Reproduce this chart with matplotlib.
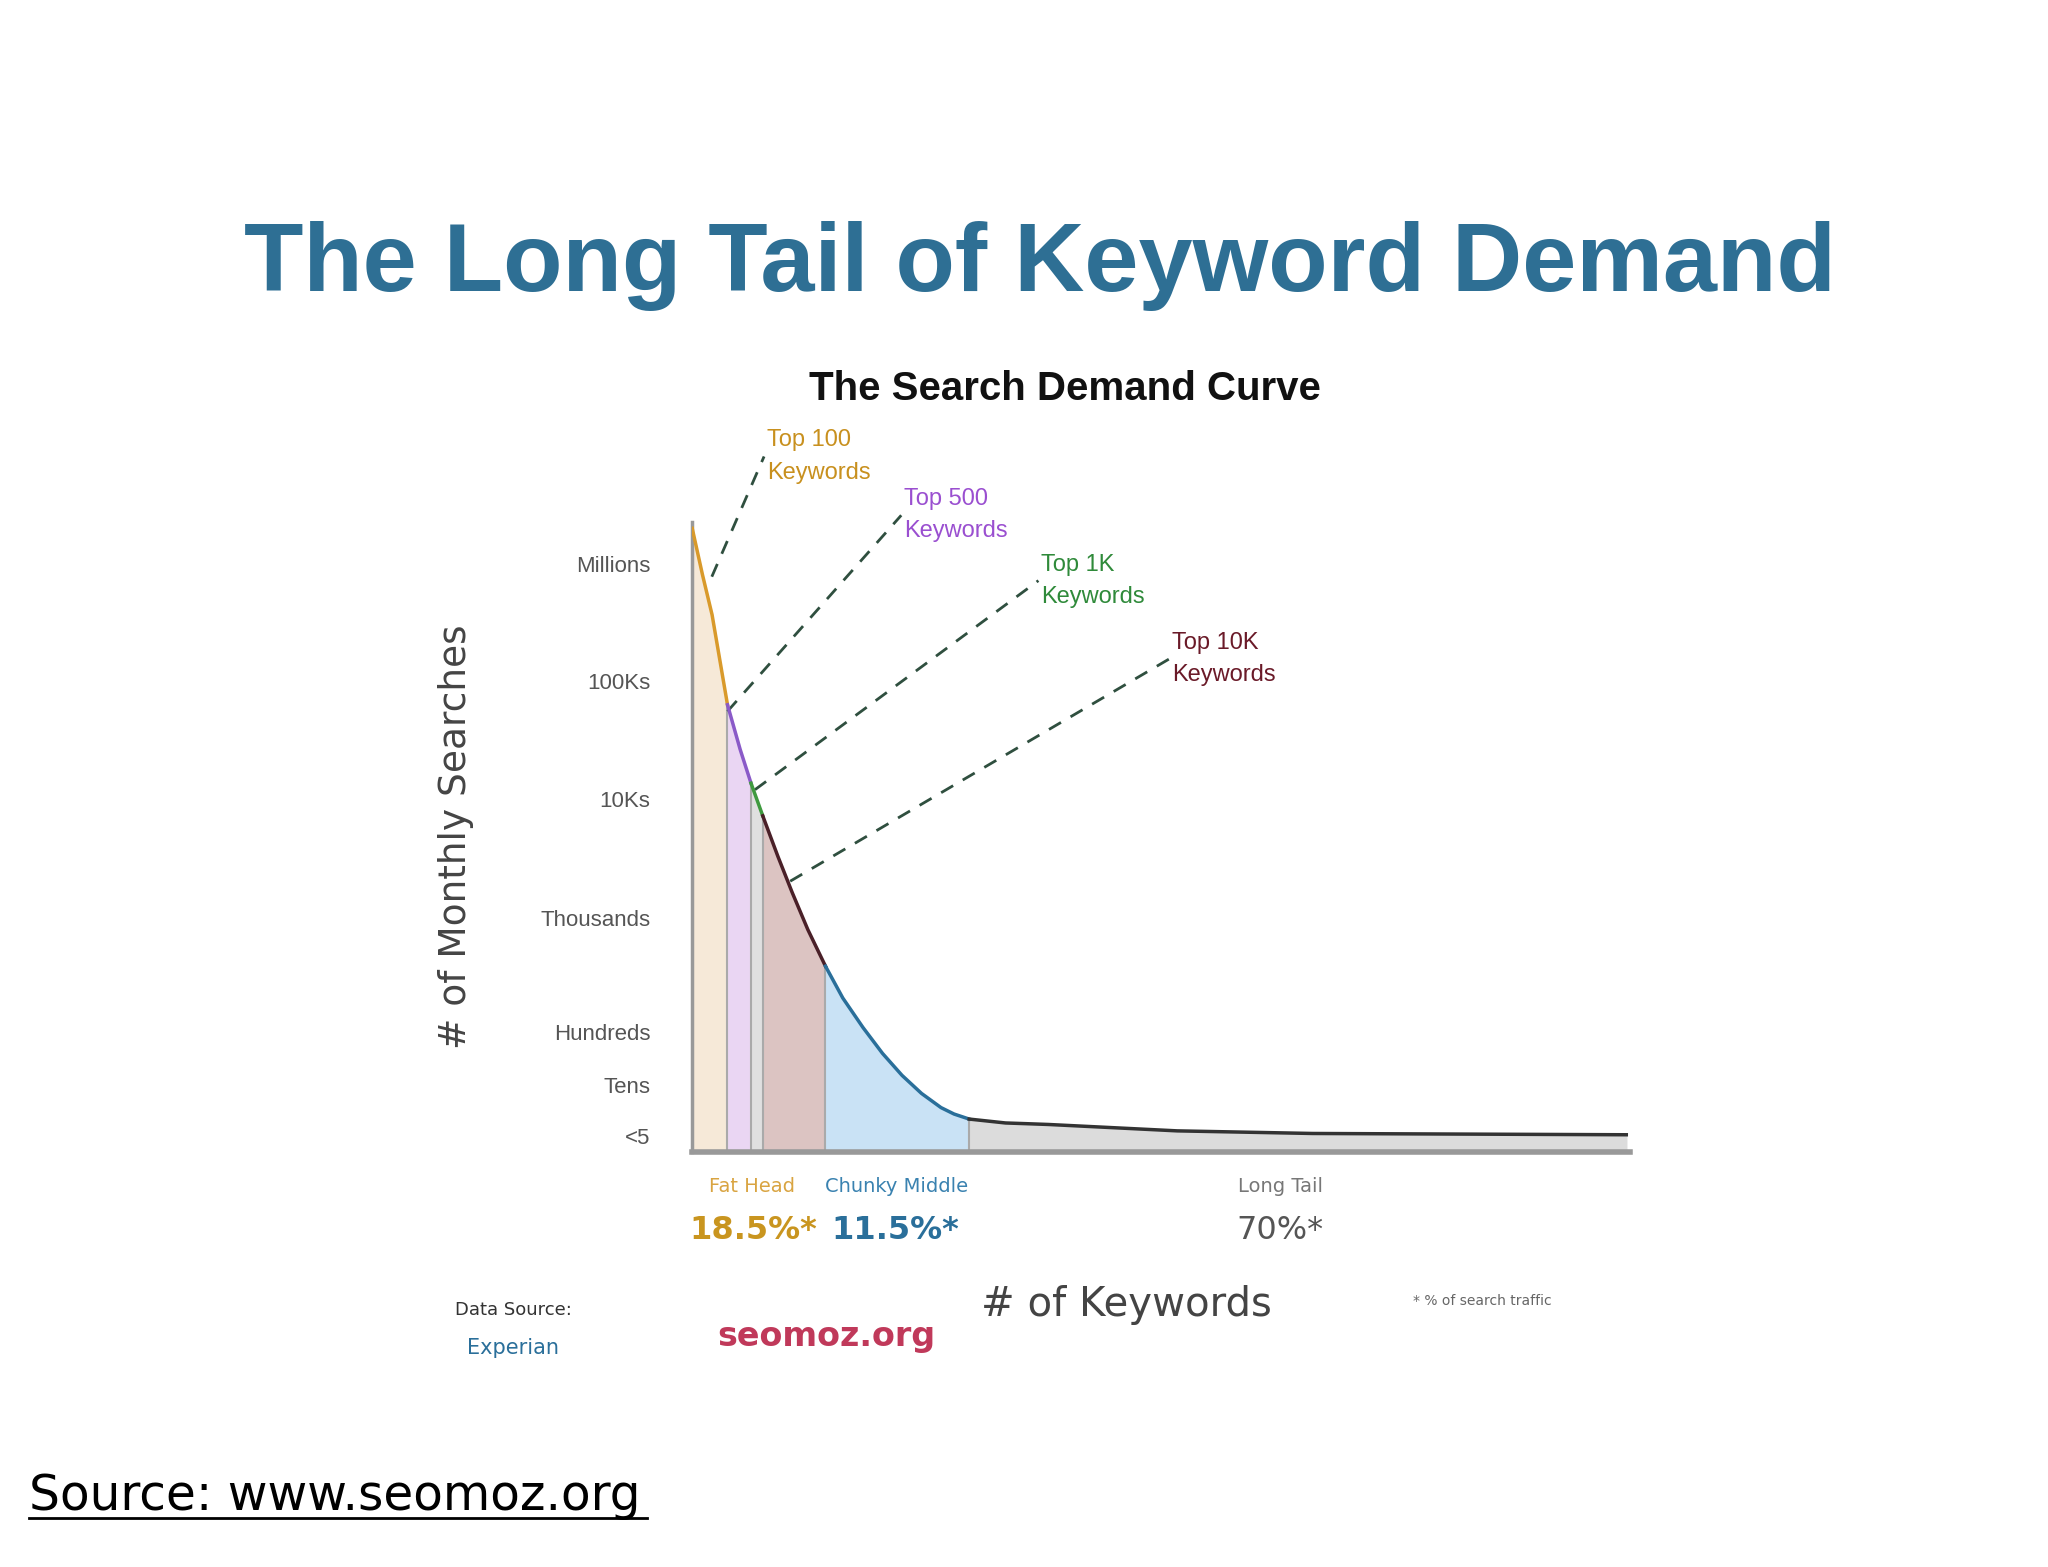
import numpy as np
import matplotlib.pyplot as plt

# curve (x = keyword rank units, y = height above baseline)
curve_x = [0, 7, 15, 21, 27, 36, 45, 54, 64, 75, 88, 102, 115, 130, 145, 160, 175,
           190, 200, 212, 240, 270, 370, 470, 715]
curve_y = [477, 445, 412, 377, 342, 310, 282, 257, 230, 202, 171, 142, 118, 96, 76, 59, 45,
           34, 29, 25, 22, 21, 16, 14, 13]

# shaded segments: (start, end, fill colour, line colour)
seg_bounds = [0, 27, 45, 54, 102, 212, 715]
seg_fills = ['#f6e9d8', '#ead6f3', '#e0e0e0', '#dcc4c2', '#c9e2f5', '#dcdcdc']
seg_lines = ['#d99a2b', '#8a5ac8', '#3f9a3f', '#4a2028', '#2a6f9a', '#333333']

tick_vals = [450, 360, 270, 179, 92, 51, 12]
tick_labels = ['Millions', '100Ks', '10Ks', 'Thousands', 'Hundreds', 'Tens', '<5']

# callouts: curve point, label position, text, colour
call_from = [(15, 440), (27, 337), (48, 277), (75, 207)]
call_to = [(55, 532), (160, 487), (265, 437), (365, 377)]
call_text = ['Top 100\nKeywords', 'Top 500\nKeywords', 'Top 1K\nKeywords', 'Top 10K\nKeywords']
call_col = ['#c8901e', '#9a4fd0', '#2f8a3a', '#6a1a28']

fig = plt.figure(figsize=(20.48, 15.67), dpi=100)
ax = fig.add_axes([0.338, 0.265, 0.458, 0.402])
ax.set_xlim(0, 718)
ax.set_ylim(0, 482)

cx = np.array(curve_x, float)
cy = np.array(curve_y, float)
for i in range(len(seg_fills)):
    xs = np.linspace(seg_bounds[i], seg_bounds[i + 1], 200)
    ys = np.interp(xs, cx, cy)
    ax.fill_between(xs, 0, ys, color=seg_fills[i], zorder=1)
    ax.plot(xs, ys, color=seg_lines[i], lw=2.5, zorder=3, solid_joinstyle='round')
    ax.plot([seg_bounds[i], seg_bounds[i]], [0, np.interp(seg_bounds[i], cx, cy)],
            color='#aaaaaa', lw=1.5, zorder=2)

for (x0, y0), (x1, y1), t, c in zip(call_from, call_to, call_text, call_col):
    ax.plot([x0, x1], [y0, y1], ls='--', color='#2f4f3f', lw=2, dashes=(5, 4), clip_on=False)
    ax.text(x1 + 2, y1, t, color=c, fontsize=17, ha='left', va='center', linespacing=1.6,
            family='Liberation Sans')

for s in ['top', 'right']:
    ax.spines[s].set_visible(False)
ax.spines['left'].set_color('#999999')
ax.spines['bottom'].set_color('#999999')
ax.spines['left'].set_linewidth(2.5)
ax.spines['bottom'].set_linewidth(4)
ax.set_xticks([])
ax.set_yticks(tick_vals)
ax.set_yticklabels(tick_labels, fontsize=16, color='#555555', family='Liberation Sans')
ax.tick_params(axis='y', length=0, pad=30)
ax.set_ylabel('# of Monthly Searches', fontsize=27, color='#444444', labelpad=48)

fig.text(0.508, 0.83, 'The Long Tail of Keyword Demand', fontsize=70, fontweight='bold',
         color='#2e6f94', ha='center', va='center', family='Liberation Sans')
fig.text(0.52, 0.752, 'The Search Demand Curve', fontsize=29, fontweight='bold',
         color='#111111', ha='center', va='center', family='Liberation Sans')

fig.text(0.367, 0.243, 'Fat Head', fontsize=14, color='#d9a441', ha='center', va='center')
fig.text(0.438, 0.243, 'Chunky Middle', fontsize=14, color='#3a82b0', ha='center', va='center')
fig.text(0.625, 0.243, 'Long Tail', fontsize=14, color='#777777', ha='center', va='center')
fig.text(0.368, 0.215, '18.5%*', fontsize=23, fontweight='bold', color='#c9951f', ha='center', va='center')
fig.text(0.437, 0.215, '11.5%*', fontsize=23, fontweight='bold', color='#2a6f9a', ha='center', va='center')
fig.text(0.625, 0.215, '70%*', fontsize=23, color='#555555', ha='center', va='center')

fig.text(0.55, 0.167, '# of Keywords', fontsize=29, color='#444444', ha='center', va='center')
fig.text(0.69, 0.17, '* % of search traffic', fontsize=10, color='#666666', ha='left', va='center')
fig.text(0.222, 0.164, 'Data Source:', fontsize=13, color='#333333', ha='left', va='center')
fig.text(0.228, 0.14, 'Experian', fontsize=15, color='#2a6f9a', ha='left', va='center')
fig.text(0.35, 0.147, 'seomoz.org', fontsize=24, fontweight='bold', color='#c0395a', ha='left', va='center')

fig.text(0.014, 0.045, 'Source: www.seomoz.org', fontsize=35, color='black', ha='left',
         va='center', family='DejaVu Sans')
fig.add_artist(plt.Line2D([0.014, 0.316], [0.031, 0.031], color='black', lw=2))

fig.savefig('out.png', dpi=100, facecolor='white')
